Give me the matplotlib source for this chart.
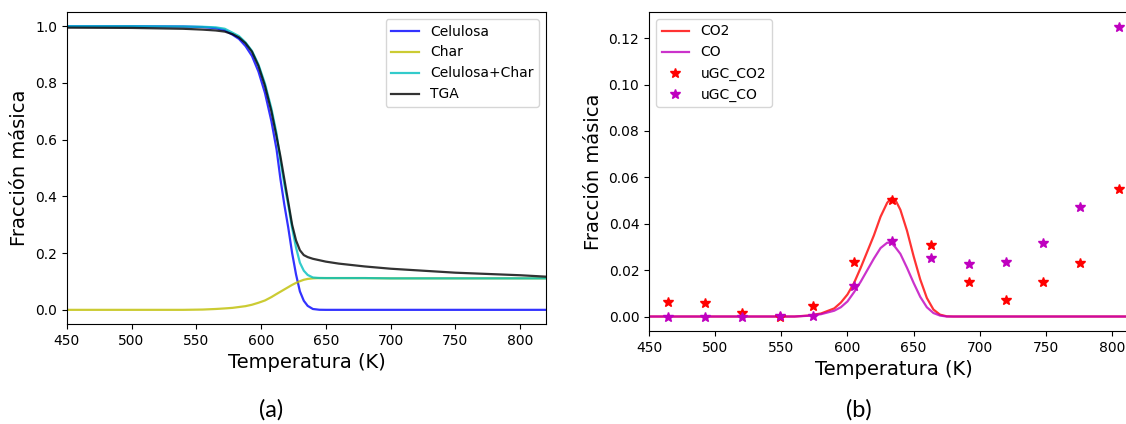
import numpy as np
import matplotlib
matplotlib.use('Agg')
from matplotlib import pyplot as plt

# (a) termogravimetria de celulosa
temp_a = [450, 500, 540, 555, 565, 572, 578, 583, 588, 593, 598, 603, 608, 612,
          615, 618, 621, 624, 627, 630, 633, 636, 640, 645, 650, 660, 680, 700,
          750, 800, 820]
celulosa = [1.0, 1.0, 0.999, 0.997, 0.993, 0.986, 0.97, 0.955, 0.93, 0.895,
            0.84, 0.765, 0.665, 0.565, 0.46, 0.37, 0.29, 0.20, 0.125, 0.065,
            0.032, 0.014, 0.003, 0.0003, 0.0, 0.0, 0.0, 0.0, 0.0, 0.0, 0.0]
char = [0.0, 0.0, 0.0, 0.001, 0.003, 0.005, 0.007, 0.010, 0.013, 0.018, 0.025,
        0.033, 0.045, 0.056, 0.064, 0.072, 0.080, 0.088, 0.095, 0.101, 0.106,
        0.109, 0.111, 0.112, 0.112, 0.112, 0.112, 0.111, 0.111, 0.111, 0.111]
cel_char = [1.0, 1.0, 0.999, 0.998, 0.996, 0.991, 0.977, 0.965, 0.943, 0.913,
            0.865, 0.798, 0.71, 0.621, 0.524, 0.442, 0.37, 0.288, 0.22, 0.166,
            0.138, 0.123, 0.114, 0.1123, 0.112, 0.112, 0.112, 0.111, 0.111,
            0.111, 0.111]
tga = [0.995, 0.994, 0.991, 0.988, 0.985, 0.981, 0.972, 0.96, 0.94, 0.91, 0.86,
       0.79, 0.70, 0.61, 0.54, 0.46, 0.38, 0.30, 0.245, 0.21, 0.193, 0.186,
       0.18, 0.175, 0.17, 0.163, 0.153, 0.145, 0.131, 0.122, 0.117]

# (b) gases CO2 y CO
temp_b = [450, 560, 570, 580, 590, 595, 600, 605, 610, 615, 620, 625, 630, 633,
          636, 640, 645, 650, 655, 660, 665, 670, 675, 680, 820]
co2 = [0.0, 0.0, 0.0004, 0.0013, 0.0035, 0.006, 0.0095, 0.0145, 0.021, 0.028,
       0.035, 0.043, 0.049, 0.051, 0.0505, 0.046, 0.037, 0.026, 0.016, 0.008,
       0.003, 0.0008, 0.0001, 0.0, 0.0]
co = [0.0, 0.0, 0.0003, 0.001, 0.0025, 0.004, 0.0065, 0.0105, 0.015, 0.020,
      0.025, 0.0295, 0.0318, 0.0318, 0.030, 0.027, 0.021, 0.0145, 0.0085, 0.004,
      0.0015, 0.0004, 0.0, 0.0, 0.0]

temp_gc = [464, 492, 520, 549, 574, 605, 634, 663, 692, 720, 748, 776, 805]
gc_co2 = [0.0064, 0.0057, 0.0016, 0.0, 0.0046, 0.0234, 0.0503, 0.031, 0.015,
          0.007, 0.015, 0.0232, 0.0549]
gc_co = [0.0, 0.0, 0.0, 0.0003, 0.0003, 0.013, 0.0327, 0.0252, 0.0226, 0.0234,
         0.0315, 0.0471, 0.1246]

tick_fs = 10
label_fs = 14
legend_fs = 10

fig = plt.figure(figsize=(11.26, 4.24), dpi=100)

ax1 = fig.add_axes([0.0593, 0.2358, 0.4256, 0.7358])
ax1.plot(temp_a, celulosa, 'b', alpha=0.8, lw=1.6, label='Celulosa')
ax1.plot(temp_a, char, 'y', alpha=0.8, lw=1.6, label='Char')
ax1.plot(temp_a, cel_char, 'c', alpha=0.8, lw=1.6, label='Celulosa+Char')
ax1.plot(temp_a, tga, 'k', alpha=0.8, lw=1.6, label='TGA')
ax1.set_xlim(450, 820)
ax1.set_ylim(-0.05, 1.05)
ax1.set_xlabel('Temperatura (K)', fontsize=label_fs)
ax1.set_ylabel('Fracción másica', fontsize=label_fs)
ax1.tick_params(labelsize=tick_fs)
ax1.legend(loc='upper right', fontsize=legend_fs)

# el eje derecho sale del borde de la figura
ax2 = fig.add_axes([0.5764, 0.2193, 0.4347, 0.7524])
ax2.plot(temp_b, co2, 'r', alpha=0.8, lw=1.6, label='CO2')
ax2.plot(temp_b, co, 'm', alpha=0.8, lw=1.6, label='CO')
ax2.plot(temp_gc, gc_co2, 'r*', ms=7, label='uGC_CO2')
ax2.plot(temp_gc, gc_co, 'm*', ms=7, label='uGC_CO')
ax2.set_xlim(450, 820)
ax2.set_ylim(-0.00625, 0.13125)
ax2.set_xticks([450, 500, 550, 600, 650, 700, 750, 800])
ax2.set_xlabel('Temperatura (K)', fontsize=label_fs)
ax2.set_ylabel('Fracción másica', fontsize=label_fs)
ax2.tick_params(labelsize=tick_fs)
ax2.legend(loc='upper left', fontsize=legend_fs)

fig.text(0.2407, 0.033, '(a)', fontsize=17, family='Lato', ha='center', va='center')
fig.text(0.7625, 0.033, '(b)', fontsize=17, family='Lato', ha='center', va='center')

plt.savefig('out.png', dpi=100)
